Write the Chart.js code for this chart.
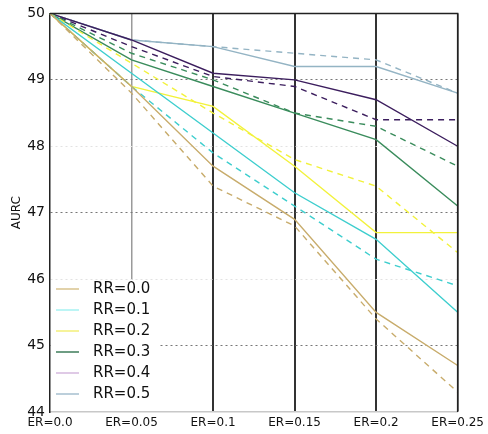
<!DOCTYPE html>
<html>
<head>
<meta charset="utf-8">
<script src="https://cdn.jsdelivr.net/npm/chart.js@4"></script>
<style>
  html, body { margin: 0; padding: 0; background: #fff; }
  #wrap { width: 488px; height: 434px; }
</style>
</head>
<body>
<div id="wrap"><canvas id="c" width="488" height="434"></canvas></div>
<script>
const categories = ["ER=0.0", "ER=0.05", "ER=0.1", "ER=0.15", "ER=0.2", "ER=0.25"];
const rrNames = ["RR=0.0", "RR=0.1", "RR=0.2", "RR=0.3", "RR=0.4", "RR=0.5"];

// solid and dashed runs per RR
const rr00Solid  = [50, 48.9, 47.7, 46.9, 45.5, 44.7];
const rr00Dashed = [50, 48.8, 47.4, 46.8, 45.4, 44.3];
const rr01Solid  = [50, 49.1, 48.2, 47.3, 46.6, 45.5];
const rr01Dashed = [50, 48.9, 47.9, 47.1, 46.3, 45.9];
const rr02Solid  = [50, 48.9, 48.6, 47.7, 46.7, 46.7];
const rr02Dashed = [50, 49.25, 48.5, 47.8, 47.4, 46.4];
const rr03Solid  = [50, 49.3, 48.9, 48.5, 48.1, 47.1];
const rr03Dashed = [50, 49.4, 49.0, 48.5, 48.3, 47.7];
const rr04Solid  = [50, 49.6, 49.1, 49.0, 48.7, 48.0];
const rr04Dashed = [50, 49.5, 49.05, 48.9, 48.4, 48.4];
const rr05Solid  = [50, 49.6, 49.5, 49.2, 49.2, 48.8];
const rr05Dashed = [50, 49.6, 49.5, 49.4, 49.3, 48.8];

const yTicks = [44, 45, 46, 47, 48, 49, 50];

const lineColors   = ["#c8ac6c", "#3ecece", "#f2f23c", "#3a8c5c", "#3c1e5e", "#94b4c4"];
const legendColors = ["#d8c38e", "#a6f2f2", "#f3ef78", "#3e7c5a", "#d4b8de", "#a6bfcf"];

const solids = [rr00Solid, rr01Solid, rr02Solid, rr03Solid, rr04Solid, rr05Solid];
const dashes = [rr00Dashed, rr01Dashed, rr02Dashed, rr03Dashed, rr04Dashed, rr05Dashed];

const datasets = [];
rrNames.forEach((name, i) => {
	datasets.push({
		label: name,
		data: solids[i],
		borderColor: lineColors[i],
		borderWidth: 1.4,
		pointRadius: 0,
		tension: 0,
		fill: false,
	});
	datasets.push({
		label: name + " dashed",
		data: dashes[i],
		borderColor: lineColors[i],
		borderWidth: 1.4,
		borderDash: [6, 5],
		pointRadius: 0,
		tension: 0,
		fill: false,
	});
});

const framePlugin = { // top/right border and the legend box
	id: "frame",
	afterDraw: (chart) => {
		const { ctx, chartArea } = chart;
		ctx.save();
		ctx.strokeStyle = "#222";
		ctx.lineWidth = 1.5;
		ctx.beginPath();
		ctx.moveTo(chartArea.left, chartArea.top);
		ctx.lineTo(chartArea.right, chartArea.top);
		ctx.lineTo(chartArea.right, chartArea.bottom);
		ctx.stroke();

		// legend
		ctx.fillStyle = "#fff";
		ctx.fillRect(chartArea.left + 1, 280, 107, chartArea.bottom - 281);
		ctx.font = "15px 'DejaVu Sans'";
		ctx.textBaseline = "middle";
		rrNames.forEach((name, i) => {
			const y = 289 + i * 21;
			ctx.strokeStyle = legendColors[i];
			ctx.lineWidth = 1.5;
			ctx.beginPath();
			ctx.moveTo(56, y);
			ctx.lineTo(79, y);
			ctx.stroke();
			ctx.fillStyle = "#111";
			ctx.fillText(name, 93, y);
		});
		ctx.restore();
	},
};

new Chart(document.getElementById("c").getContext("2d"), {
	type: "line",
	data: { labels: categories, datasets: datasets },
	options: {
		responsive: false,
		animation: false,
		layout: { padding: { top: 11, right: 27, left: 0, bottom: 0 } },
		plugins: { legend: { display: false }, tooltip: { enabled: false } },
		scales: {
			x: {
				offset: false,
				afterFit: (s) => { s.height = 22; },
				ticks: { color: "#111", font: { family: "DejaVu Sans", size: 12 }, padding: 4, maxRotation: 0, autoSkip: false },
				grid: {
					drawTicks: false,
					color: (c) => ["rgba(0,0,0,0)", "#9a9a9a", "#333", "#333", "#333", "#222"][c.index],
					lineWidth: (c) => [1, 1.5, 2, 2, 2, 1.5][c.index],
				},
				border: { color: "#c8c8c8", width: 1.5 },
			},
			y: {
				min: 44,
				max: 50,
				afterFit: (s) => { s.width = 50; },
				afterBuildTicks: (s) => { s.ticks = yTicks.map(v => ({ value: v })); },
				title: { display: true, text: "AURC", color: "#111", font: { family: "DejaVu Sans", size: 12 }, padding: { top: 10, bottom: 0 } },
				ticks: { color: "#111", font: { family: "DejaVu Sans", size: 14 }, padding: 5 },
				grid: {
					drawTicks: false,
					color: (c) => {
						const v = c.tick ? c.tick.value : 0;
						if (v === 44 || v === 50) return "rgba(0,0,0,0)";
						return (v === 46 || v === 48) ? "#e2e2e2" : "#777";
					},
					lineWidth: 1,
				},
				border: { color: "#222", width: 1.5, dash: [2, 3] },
			},
		},
	},
	plugins: [framePlugin],
});
</script>
</body>
</html>
